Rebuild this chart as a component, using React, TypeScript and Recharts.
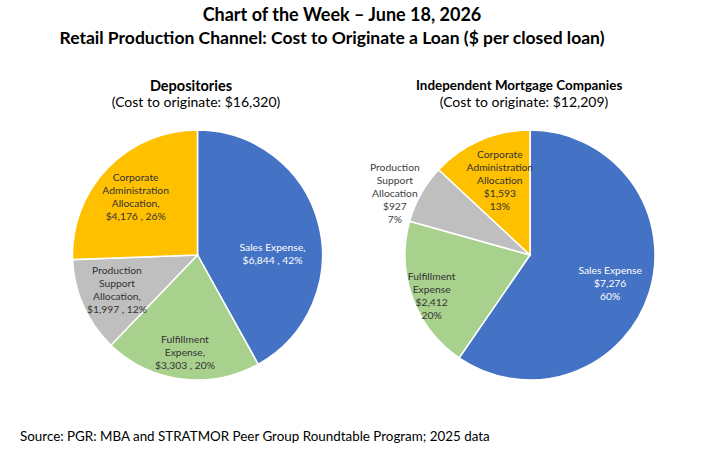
import React from 'react';
import { PieChart, Pie, Cell } from 'recharts';

const categories = ['Sales Expense', 'Fulfillment Expense', 'Production Support Allocation', 'Corporate Administration Allocation'];
const depValues = [6844, 3303, 1997, 4176];
const depPct = [42, 20, 12, 26];
const imcValues = [7276, 2412, 927, 1593];
const imcPct = [60, 20, 7, 13];
const depNameLines = [['Sales Expense,'], ['Fulfillment', 'Expense,'], ['Production', 'Support', 'Allocation,'], ['Corporate', 'Administration', 'Allocation,']];
const imcNameLines = [['Sales Expense'], ['Fulfillment', 'Expense'], ['Production', 'Support', 'Allocation'], ['Corporate', 'Administration', 'Allocation']];

const colors = ['#4472C4', '#A9D18E', '#BFBFBF', '#FFC000'];
const textColors = ['#ffffff', '#333333', '#333333', '#333333'];
const FONT = 'Lato, "Open Sans", sans-serif';

const fmt = (v: number) => '$' + v.toLocaleString('en-US');

const depData = categories.map((name, i) => ({
  name,
  value: depValues[i],
  lines: [...depNameLines[i], `${fmt(depValues[i])} , ${depPct[i]}%`],
}));
const imcData = categories.map((name, i) => ({
  name,
  value: imcValues[i],
  lines: [...imcNameLines[i], fmt(imcValues[i]), `${imcPct[i]}%`],
}));

// label placement: [distance as fraction of radius, angle in degrees]
const depLabelPos = [[0.6, 1.2], [0.78, -97.4], [0.7, 203], [0.68, 136.7]];
const imcLabelPos = [[0.68, -19.3], [0.85, 202.2], [1.19, 155.3], [0.65, 111.8]];

const makeLabel = (pos: number[][], lineH: number) => (props: any) => {
  const { cx, cy, outerRadius, index, payload } = props;
  const [f, a] = pos[index];
  const rad = (a * Math.PI) / 180;
  const x = cx + outerRadius * f * Math.cos(rad);
  const y = cy - outerRadius * f * Math.sin(rad);
  const lines: string[] = payload.lines;
  const y0 = y - ((lines.length - 1) * lineH) / 2;
  const fill = index === 2 && pos === imcLabelPos ? '#404040' : textColors[index];
  return (
    <text x={x} y={y0} textAnchor="middle" dominantBaseline="central" fill={fill} fontSize={10.3} fontFamily={FONT}>
      {lines.map((l, i) => (
        <tspan key={i} x={x} y={y0 + i * lineH} dominantBaseline="central">{l}</tspan>
      ))}
    </text>
  );
};

const abs = (left: number, top: number, extra: React.CSSProperties = {}): React.CSSProperties => ({
  position: 'absolute', left, top, fontFamily: FONT, color: '#000', whiteSpace: 'nowrap', lineHeight: 1.2, ...extra,
});

export default function App() {
  return (
    <div style={{ position: 'absolute', left: 0, top: 0, width: 704, height: 457, background: '#fff', overflow: 'hidden' }}>
      <div style={abs(0, 4, { width: 684, textAlign: 'center', fontWeight: 700, fontSize: 18 })}>Chart of the Week – June 18, 2026</div>
      <div style={abs(0, 27, { width: 664, textAlign: 'center', fontWeight: 700, fontSize: 17.5 })}>Retail Production Channel: Cost to Originate a Loan ($ per closed loan)</div>
      <div style={abs(91, 77, { width: 200, textAlign: 'center', fontWeight: 700, fontSize: 14.5 })}>Depositories</div>
      <div style={abs(96, 94, { width: 200, textAlign: 'center', fontSize: 14 })}>(Cost to originate: $16,320)</div>
      <div style={abs(416, 77, { width: 200, textAlign: 'center', fontWeight: 700, fontSize: 13.4 })}>Independent Mortgage Companies</div>
      <div style={abs(424, 94, { width: 200, textAlign: 'center', fontSize: 14 })}>(Cost to originate: $12,209)</div>
      <div style={abs(20, 428, { fontSize: 13.4 })}>Source: PGR: MBA and STRATMOR Peer Group Roundtable Program; 2025 data</div>
      <div style={{ position: 'absolute', left: 0, top: 0 }}>
        <PieChart width={704} height={457} margin={{ top: 0, right: 0, bottom: 0, left: 0 }}>
          <Pie
            data={depData}
            dataKey="value"
            cx={197.5}
            cy={255}
            outerRadius={125}
            startAngle={90}
            endAngle={-270}
            stroke="#ffffff"
            strokeWidth={1.5}
            label={makeLabel(depLabelPos, 13)}
            labelLine={false}
            isAnimationActive={false}
          >
            {depData.map((d, i) => <Cell key={d.name} fill={colors[i]} />)}
          </Pie>
          <Pie
            data={imcData}
            dataKey="value"
            cx={530}
            cy={255}
            outerRadius={125}
            startAngle={90}
            endAngle={-270}
            stroke="#ffffff"
            strokeWidth={1.5}
            label={makeLabel(imcLabelPos, 13)}
            labelLine={false}
            isAnimationActive={false}
          >
            {imcData.map((d, i) => <Cell key={d.name} fill={colors[i]} />)}
          </Pie>
        </PieChart>
      </div>
    </div>
  );
}
